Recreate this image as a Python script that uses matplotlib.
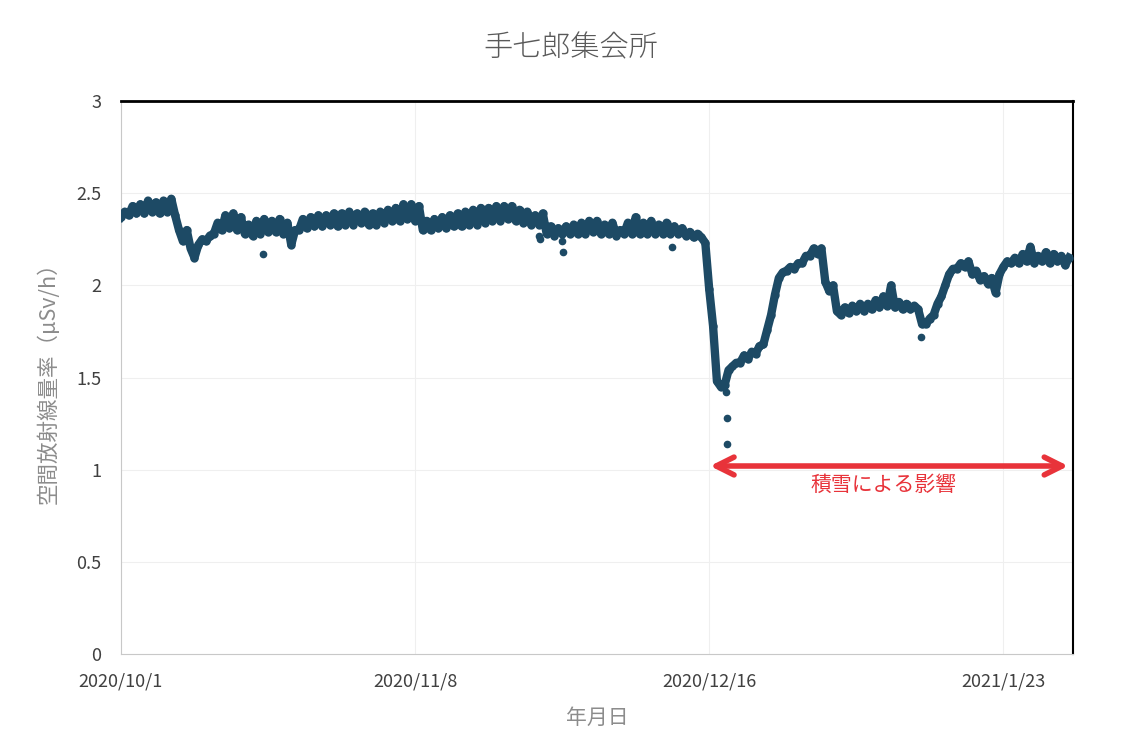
import numpy as np
import pandas as pd
import matplotlib
matplotlib.use('Agg')
import matplotlib.pyplot as plt

plt.rcParams['font.family'] = ['Noto Sans CJK JP', 'DejaVu Sans']

# 空間放射線量率 (μSv/h), 2020/10/1 から1日ごと: 0時の値と12時の値
dose_am = [2.37, 2.38, 2.39, 2.39, 2.40, 2.39, 2.40, 2.38, 2.24, 2.20,
           2.22, 2.24, 2.28, 2.30, 2.31, 2.30, 2.28, 2.27, 2.28, 2.29,
           2.29, 2.28, 2.22, 2.30, 2.31, 2.32, 2.32, 2.33, 2.32, 2.33,
           2.33, 2.34, 2.33, 2.33, 2.34, 2.35, 2.35, 2.36, 2.35, 2.30,
           2.30, 2.31, 2.31, 2.32, 2.32, 2.33, 2.33, 2.34, 2.35, 2.35,
           2.36, 2.35, 2.34, 2.33, 2.33, 2.28, 2.27, 2.28, 2.28, 2.28,
           2.28, 2.29, 2.28, 2.28, 2.27, 2.28, 2.28, 2.28, 2.28, 2.28,
           2.28, 2.28, 2.28, 2.27, 2.26, 2.26, 1.98, 1.48, 1.46, 1.56,
           1.58, 1.60, 1.63, 1.68, 1.84, 2.04, 2.08, 2.09, 2.12, 2.16,
           2.17, 2.02, 2.00, 1.84, 1.85, 1.86, 1.86, 1.87, 1.88, 1.89,
           1.88, 1.87, 1.87, 1.87, 1.79, 1.84, 1.94, 2.06, 2.09, 2.10,
           2.06, 2.03, 2.01, 1.96, 2.10, 2.12, 2.12, 2.13, 2.12, 2.13,
           2.12, 2.13, 2.11]
dose_pm = [2.40, 2.43, 2.44, 2.46, 2.45, 2.46, 2.47, 2.30, 2.30, 2.15,
           2.25, 2.27, 2.34, 2.38, 2.39, 2.37, 2.33, 2.35, 2.36, 2.35,
           2.36, 2.34, 2.30, 2.36, 2.37, 2.38, 2.38, 2.39, 2.39, 2.40,
           2.39, 2.40, 2.39, 2.40, 2.41, 2.42, 2.44, 2.44, 2.43, 2.35,
           2.36, 2.37, 2.38, 2.39, 2.40, 2.41, 2.42, 2.42, 2.43, 2.43,
           2.43, 2.41, 2.40, 2.38, 2.39, 2.32, 2.31, 2.32, 2.33, 2.34,
           2.35, 2.35, 2.33, 2.34, 2.30, 2.34, 2.37, 2.34, 2.35, 2.33,
           2.34, 2.32, 2.31, 2.29, 2.28, 2.23, 1.78, 1.45, 1.54, 1.58,
           1.62, 1.64, 1.67, 1.76, 1.95, 2.07, 2.10, 2.12, 2.16, 2.20,
           2.20, 1.97, 1.86, 1.88, 1.89, 1.90, 1.90, 1.92, 1.94, 2.00,
           1.91, 1.90, 1.89, 1.79, 1.82, 1.90, 2.00, 2.09, 2.12, 2.13,
           2.08, 2.05, 2.04, 2.06, 2.13, 2.15, 2.17, 2.21, 2.16, 2.18,
           2.17, 2.16, 2.15]

# 外れ値 (日時, 値)
out_time = ['2020-10-19 08:00', '2020-11-24 00:00', '2020-11-24 02:00',
            '2020-11-27 00:00', '2020-11-27 02:00', '2020-12-11 05:00',
            '2020-12-18 04:00', '2020-12-18 07:00', '2020-12-18 08:00',
            '2021-01-12 10:00']
out_dose = [2.17, 2.27, 2.25, 2.24, 2.18, 2.21, 1.42, 1.28, 1.14, 1.72]

tick_dates = ['2020-10-01', '2020-11-08', '2020-12-16', '2021-01-23']
snow_start, snow_end = '2020-12-15 18:00', '2021-01-31 18:00'

start = pd.Timestamp('2020-10-01')
days = pd.to_timedelta(np.arange(len(dose_am)), unit='D')
t = np.empty(2 * len(dose_am), dtype='datetime64[ns]')
t[0::2] = (start + days).values
t[1::2] = (start + days + pd.Timedelta(hours=12)).values
v = np.empty(2 * len(dose_am))
v[0::2] = dose_am
v[1::2] = dose_pm

col = '#1d4a65'
fig = plt.figure(figsize=(11.22, 7.54), dpi=100)
ax = fig.add_axes([0.1078, 0.1326, 0.8485, 0.7334])

ax.plot(t, v, color=col, lw=6, marker='o', ms=5, solid_joinstyle='round', zorder=3)
ax.plot(pd.to_datetime(out_time), out_dose, 'o', color=col, ms=4.5, zorder=3)

ax.set_xlim(pd.Timestamp('2020-10-01'), pd.Timestamp('2021-02-01'))
ax.set_ylim(0, 3)
ax.set_yticks(np.arange(0, 3.01, 0.5))
ax.set_yticklabels(['0', '0.5', '1', '1.5', '2', '2.5', '3'])
td = pd.to_datetime(tick_dates)
ax.set_xticks(td)
ax.set_xticklabels([f'{d.year}/{d.month}/{d.day}' for d in td])
ax.tick_params(axis='both', length=0, labelsize=13, colors='#404040')
ax.tick_params(axis='y', pad=14)
ax.tick_params(axis='x', pad=13)

ax.grid(True, color='#efefef', lw=0.8)
ax.set_axisbelow(True)
ax.spines['top'].set_color('black')
ax.spines['top'].set_linewidth(2)
ax.spines['right'].set_color('black')
ax.spines['right'].set_linewidth(1.5)
ax.spines['left'].set_color('#c8c8c8')
ax.spines['bottom'].set_color('#c8c8c8')

fig.text(0.509, 0.936, '手七郎集会所', fontsize=21, color='#595959',
         fontweight='light', ha='center', va='center')
ax.set_ylabel('空間放射線量率（μSv/h）', fontsize=15.5, color='#8c8c8c', labelpad=12)
ax.set_xlabel('年月日', fontsize=15, color='#8c8c8c', labelpad=12)

red = '#e8333a'
ax.annotate('', xy=(pd.Timestamp(snow_start), 1.02), xytext=(pd.Timestamp(snow_end), 1.02),
            arrowprops=dict(arrowstyle='<->', color=red, lw=4, mutation_scale=32))
ax.text(pd.Timestamp('2021-01-07 12:00'), 0.92, '積雪による影響', color=red, fontsize=15,
        ha='center', va='center')

fig.savefig('out.png', dpi=100)
